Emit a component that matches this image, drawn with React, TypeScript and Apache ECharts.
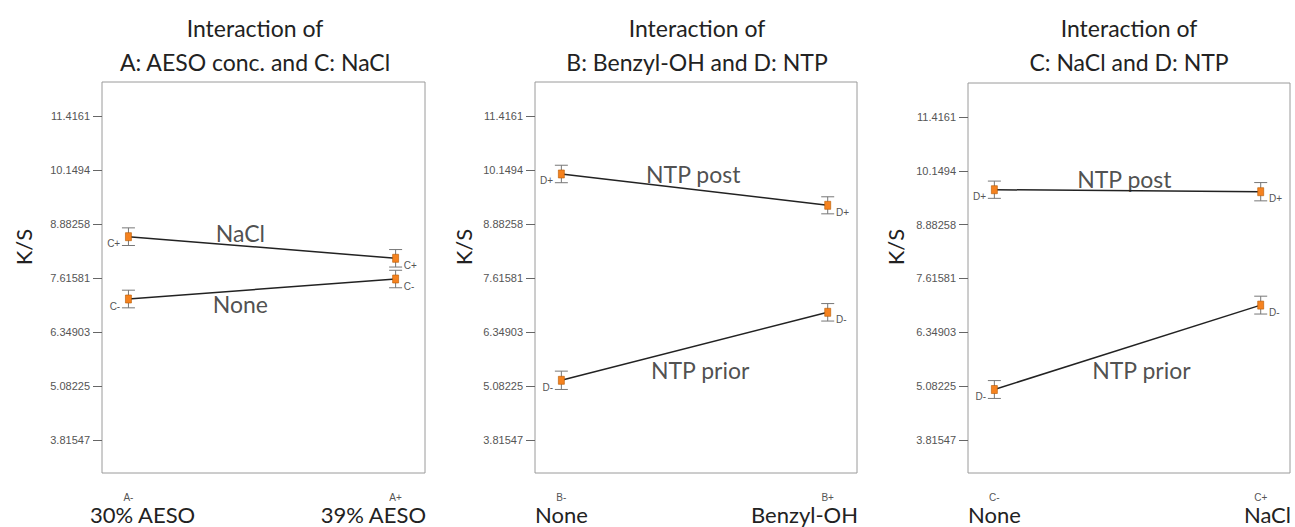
import React, { useEffect, useRef } from "react";
import * as echarts from "echarts";

// ---- data ----
const titles = [
  "Interaction of\nA: AESO conc. and C: NaCl",
  "Interaction of\nB: Benzyl-OH and D: NTP",
  "Interaction of\nC: NaCl and D: NTP",
];
const levelCodes = [["A-", "A+"], ["B-", "B+"], ["C-", "C+"]];
const levelNames = [["30% AESO", "39% AESO"], ["None", "Benzyl-OH"], ["None", "NaCl"]];
const yTickValues = [3.81547, 5.08225, 6.34903, 7.61581, 8.88258, 10.1494, 11.4161];
const yTickLabels = ["3.81547", "5.08225", "6.34903", "7.61581", "8.88258", "10.1494", "11.4161"];
const yAxisName = "K/S";

// panel 1 : A x C
const p1NaCl = [8.585, 8.078];
const p1NaClErr = [0.207, 0.205];
const p1None = [7.123, 7.592];
const p1NoneErr = [0.207, 0.205];
// panel 2 : B x D
const p2Post = [10.056, 9.321];
const p2PostErr = [0.205, 0.2];
const p2Prior = [5.216, 6.811];
const p2PriorErr = [0.215, 0.205];
// panel 3 : C x D
const p3Post = [9.704, 9.657];
const p3PostErr = [0.203, 0.215];
const p3Prior = [5.005, 6.99];
const p3PriorErr = [0.21, 0.21];

const pointCodes = [[["C+", "C+"], ["C-", "C-"]], [["D+", "D+"], ["D-", "D-"]], [["D+", "D+"], ["D-", "D-"]]];
const lineNames = [["NaCl", "None"], ["NTP post", "NTP prior"], ["NTP post", "NTP prior"]];
// anchor (x, y) of each line's name in data units
const lineNameAnchors = [
  [[0.419, 8.672], [0.419, 7.006]],
  [[0.495, 10.056], [0.521, 5.458]],
  [[0.488, 9.962], [0.552, 5.458]],
];

const panelSeries = [
  [[p1NaCl, p1NaClErr], [p1None, p1NoneErr]],
  [[p2Post, p2PostErr], [p2Prior, p2PriorErr]],
  [[p3Post, p3PostErr], [p3Prior, p3PriorErr]],
];

// ---- layout ----
const W = 1295;
const H = 527;
const grids = [
  { left: 102, top: 82, width: 323, height: 391 },
  { left: 535, top: 82, width: 322, height: 391 },
  { left: 968, top: 83, width: 322, height: 390 },
];
const titleX = [255, 697, 1129];
const yNameX = [23, 463, 895];
const Y_MIN = 3.0414;
const Y_MAX = 12.2137;
const X_MIN = -0.099;
const X_MAX = 1.11;
const FONT = "Lato, 'Open Sans', sans-serif";
const SMALL_FONT = "'Liberation Sans', Arial, sans-serif";

export default function App() {
  const ref = useRef<HTMLDivElement>(null);

  useEffect(() => {
    document.body.style.margin = "0";
    if (!ref.current) return;
    const chart = echarts.init(ref.current, null, { renderer: "svg" });

    const xAxis: any[] = [];
    const yAxis: any[] = [];
    const series: any[] = [];
    const graphic: any[] = [];

    grids.forEach((g, i) => {
      xAxis.push({
        type: "value",
        gridIndex: i,
        position: "bottom",
        min: X_MIN,
        max: X_MAX,
        axisLine: { show: false, onZero: false },
        axisTick: { show: false },
        splitLine: { show: false },
        axisLabel: {
          customValues: [0, 1],
          formatter: (v: number) => levelCodes[i][v > 0.5 ? 1 : 0],
          fontSize: 10,
          color: "#555",
          fontFamily: SMALL_FONT,
          margin: 19,
        },
      });
      yAxis.push({
        type: "value",
        gridIndex: i,
        position: "left",
        min: Y_MIN,
        max: Y_MAX,
        axisLine: { show: false, onZero: false },
        splitLine: { show: false },
        axisTick: {
          show: true,
          inside: false,
          customValues: yTickValues,
          length: 9,
          lineStyle: { color: "#666", width: 1 },
        },
        axisLabel: {
          customValues: yTickValues,
          formatter: (v: number) => {
            let best = 0;
            yTickValues.forEach((t, k) => {
              if (Math.abs(t - v) < Math.abs(yTickValues[best] - v)) best = k;
            });
            return yTickLabels[best];
          },
          fontSize: 11,
          color: "#555",
          fontFamily: SMALL_FONT,
          margin: 12,
        },
      });

      panelSeries[i].forEach(([vals, errs], s) => {
        series.push({
          type: "custom",
          xAxisIndex: i,
          yAxisIndex: i,
          z: 1,
          data: vals.map((v, k) => [k, v, errs[k]]),
          renderItem: (params: any, api: any) => {
            const x = api.value(0);
            const y = api.value(1);
            const e = api.value(2);
            const top = api.coord([x, y + e]);
            const bot = api.coord([x, y - e]);
            const w = 6.5;
            const st = { stroke: "#777", lineWidth: 1, fill: null };
            return {
              type: "group",
              children: [
                { type: "line", shape: { x1: top[0], y1: top[1], x2: bot[0], y2: bot[1] }, style: st },
                { type: "line", shape: { x1: top[0] - w, y1: top[1], x2: top[0] + w, y2: top[1] }, style: st },
                { type: "line", shape: { x1: bot[0] - w, y1: bot[1], x2: bot[0] + w, y2: bot[1] }, style: st },
              ],
            };
          },
        });
        series.push({
          type: "line",
          xAxisIndex: i,
          yAxisIndex: i,
          z: 3,
          symbol: "rect",
          symbolSize: [6, 8],
          lineStyle: { color: "#222", width: 1.5 },
          itemStyle: { color: "#f5821f", borderColor: "#b85a00", borderWidth: 0.6 },
          data: vals.map((v, k) => ({
            value: [k, v],
            label: {
              show: true,
              formatter: pointCodes[i][s][k],
              position: k === 0 ? "left" : "right",
              distance: k === 0 ? 5 : 5,
              offset: [0, 7],
              fontSize: 10,
              color: "#555",
              fontFamily: SMALL_FONT,
            },
          })),
        });
        series.push({
          type: "scatter",
          xAxisIndex: i,
          yAxisIndex: i,
          z: 4,
          symbolSize: 1,
          itemStyle: { color: "rgba(0,0,0,0)" },
          data: [{ value: lineNameAnchors[i][s], name: lineNames[i][s] }],
          label: {
            show: true,
            position: "inside",
            formatter: "{b}",
            fontSize: 23,
            color: "#222",
            fontFamily: FONT,
          },
        });
      });

      graphic.push({
        type: "text",
        x: titleX[i],
        y: 11,
        style: {
          text: titles[i],
          textAlign: "center",
          textVerticalAlign: "top",
          fontSize: 23,
          lineHeight: 34,
          fill: "#222",
          fontFamily: FONT,
        },
      });
      graphic.push({
        type: "text",
        x: yNameX[i],
        y: 247,
        rotation: Math.PI / 2,
        style: {
          text: yAxisName,
          textAlign: "center",
          textVerticalAlign: "middle",
          fontSize: 22,
          fill: "#222",
          fontFamily: FONT,
        },
      });
      graphic.push({
        type: "text",
        x: i === 0 ? g.left - 12 : g.left,
        y: 514,
        style: {
          text: levelNames[i][0],
          textAlign: "left",
          textVerticalAlign: "middle",
          fontSize: 22,
          fill: "#222",
          fontFamily: FONT,
        },
      });
      graphic.push({
        type: "text",
        x: g.left + g.width + 1,
        y: 514,
        style: {
          text: levelNames[i][1],
          textAlign: "right",
          textVerticalAlign: "middle",
          fontSize: 22,
          fill: "#222",
          fontFamily: FONT,
        },
      });
    });

    chart.setOption({
      animation: false,
      backgroundColor: "#ffffff",
      grid: grids.map((g) => ({
        ...g,
        show: true,
        borderColor: "#9a9a9a",
        borderWidth: 1,
        backgroundColor: "transparent",
        containLabel: false,
      })),
      xAxis,
      yAxis,
      series,
      graphic,
    });

    return () => chart.dispose();
  }, []);

  return <div ref={ref} style={{ width: W, height: H }} />;
}
